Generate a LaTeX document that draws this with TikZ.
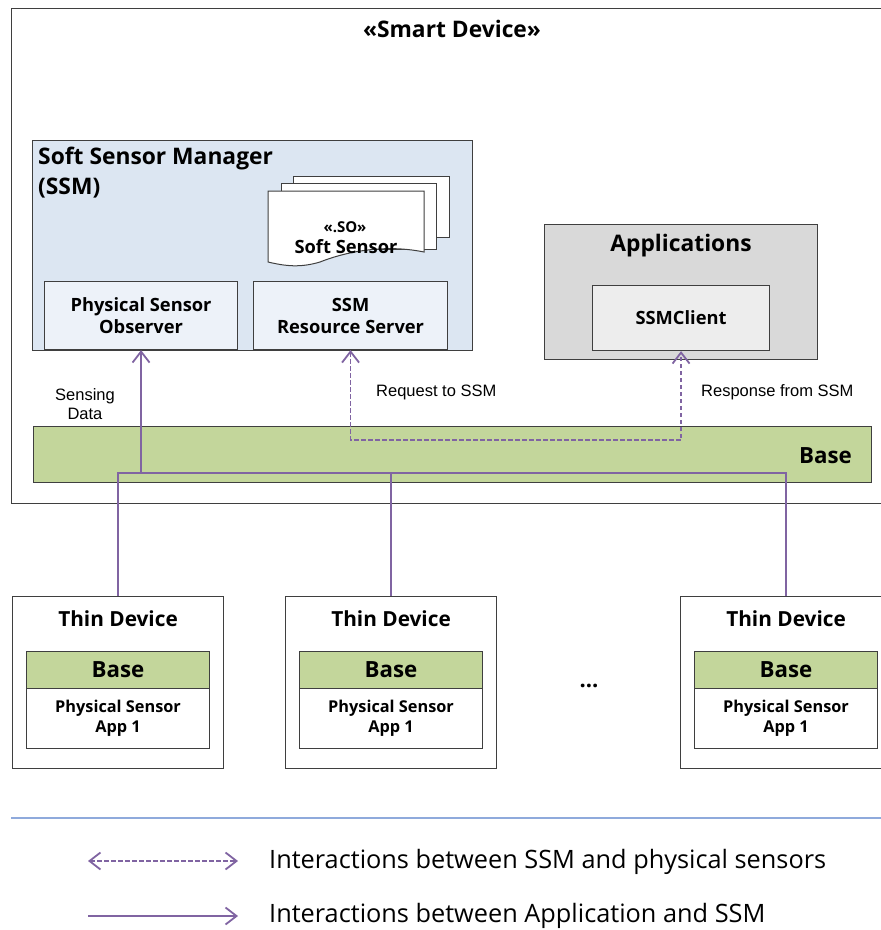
\documentclass[tikz,border=0pt]{standalone}
\usepackage{fontspec}
\setmainfont{Open Sans}
\newfontfamily\arialfont{Liberation Sans}
\usetikzlibrary{arrows.meta}
\definecolor{bordc}{HTML}{3F3F3F}
\definecolor{ssmblue}{HTML}{DCE6F2}
\definecolor{innerblue}{HTML}{EDF2F9}
\definecolor{appgray}{HTML}{D9D9D9}
\definecolor{clientgray}{HTML}{EDEDED}
\definecolor{basegreen}{HTML}{C3D69B}
\definecolor{purp}{HTML}{8064A2}
\definecolor{legline}{HTML}{8FAADC}
\tikzset{
  x=1pt, y=-1pt,
  box/.style={draw=bordc, line width=1.1pt, inner sep=0pt, anchor=north west},
  bigb/.style={font=\bfseries\fontsize{22.8}{30}\selectfont, inner sep=0pt},
  midb/.style={font=\bfseries\fontsize{18.3}{22}\selectfont, align=center, inner sep=0pt},
  smallb/.style={font=\bfseries\fontsize{16.3}{20}\selectfont, align=center, inner sep=0pt},
  basetxt/.style={font=\bfseries\fontsize{22.3}{25}\selectfont, inner sep=0pt},
  arlbl/.style={font=\arialfont\fontsize{16.5}{18.5}\selectfont, align=center, inner sep=0pt},
  legtxt/.style={font=\fontsize{25.3}{28}\selectfont, anchor=west, inner sep=0pt},
  solidarr/.style={draw=purp, line width=1.9pt},
  dasharr/.style={draw=purp, line width=1.6pt, dash pattern=on 4.5pt off 2.5pt},
  tipb/.tip={Straight Barb[length=11pt, width=17pt, line width=1.8pt]},
}
\begin{document}
\begin{tikzpicture}
\useasboundingbox (0,0) rectangle (881,930);
% smart device
\node[box, minimum width=880pt, minimum height=495pt] (smart) at (11,8) {};
\node[bigb] (smarttitle) at (452,29) {«Smart Device»};
% SSM
\node[box, fill=ssmblue, minimum width=440pt, minimum height=210pt] (ssm) at (32,140) {};
\node[bigb, anchor=north west, align=left] (ssmtitle) at (38,147) {Soft Sensor Manager\\(SSM)};
% soft sensor documents
\draw[draw=bordc, line width=1pt, fill=white] (293,176) rectangle (449,237);
\draw[draw=bordc, line width=1pt, fill=white] (281,183) rectangle (436,249);
\draw[draw=bordc, line width=1pt, fill=white] (268,191) -- (424,191) -- (424,252)
   .. controls (380,243) and (340,254) .. (320,262)
   .. controls (300,268) and (285,266) .. (268,262) -- cycle;
\node[font=\bfseries\fontsize{15}{18}\selectfont, inner sep=0pt] (so) at (345,227) {«.SO»};
\node[midb] (softsensor) at (346,247) {Soft Sensor};
\node[box, fill=innerblue, minimum width=193pt, minimum height=68pt] (psobs) at (44,281) {};
\node[midb] at (psobs.center) {Physical Sensor\\Observer};
\node[box, fill=innerblue, minimum width=194pt, minimum height=68pt] (ssmrs) at (253,281) {};
\node[midb] at (ssmrs.center) {SSM\\Resource Server};
% Applications
\node[box, fill=appgray, minimum width=273pt, minimum height=135pt] (apps) at (544,224) {};
\node[bigb] (appstitle) at (681,246) {Applications};
\node[box, fill=clientgray, minimum width=177pt, minimum height=65pt] (ssmclient) at (592,285) {};
\node[midb] at (ssmclient.center) {SSMClient};
% Base
\node[box, fill=basegreen, minimum width=838pt, minimum height=56pt] (base) at (33,426) {};
\node[basetxt, anchor=east] (basetitle) at (852,456) {Base};
% thin devices
\foreach \n/\x in {1/12, 2/285, 3/680} {
  \node[box, fill=white, minimum width=211pt, minimum height=172pt] (td\n) at (\x,596) {};
  \node[font=\bfseries\fontsize{20.8}{24}\selectfont, inner sep=0pt] (tdt\n) at ([yshift=-23pt]td\n.north) {Thin Device};
  \node[box, fill=basegreen, minimum width=183pt, minimum height=37pt] (tdb\n) at (\x+14,651) {};
  \node[basetxt] at (tdb\n.center) {Base};
  \node[box, fill=white, minimum width=183pt, minimum height=60pt] (tdp\n) at (\x+14,688) {};
  \node[smallb] at (tdp\n.center) {Physical Sensor\\App 1};
}
\node[font=\bfseries\fontsize{22}{24}\selectfont, inner sep=0pt] (dots) at (589,686) {...};
% connectors
\coordinate (hub) at (117.5,473);
\coordinate (dh) at (350,440);
\draw[solidarr] (td1.north) -- (td1.north |- hub) -| (td3.north);
\draw[solidarr] (td2.north) -- (td2.north |- hub);
\draw[solidarr, -{tipb}] (psobs.south |- hub) -- (psobs.south);
\draw[dasharr, {tipb}-{tipb}] (ssmrs.south) -- (ssmrs.south |- dh) -| (ssmclient.south);
\node[arlbl] (sensing) at (85,404) {Sensing\\Data};
\node[arlbl, anchor=west] (req) at (376,392) {Request to SSM};
\node[arlbl, anchor=west] (resp) at (701,392) {Response from SSM};
% legend
\coordinate (lgl) at (11,818);
\coordinate (lgr) at (881,818);
\draw[legline, line width=1.3pt] (lgl) -- (lgr);
\coordinate (l1a) at (88,861);
\coordinate (l1b) at (238,861);
\coordinate (l2a) at (88,916);
\coordinate (l2b) at (238,916);
\draw[dasharr, {tipb}-{tipb}] (l1a) -- (l1b);
\draw[solidarr, -{tipb}] (l2a) -- (l2b);
\node[legtxt] (leg1) at (269,862) {Interactions between SSM and physical sensors};
\node[legtxt] (leg2) at (269,916) {Interactions between Application and SSM};
\end{tikzpicture}
\end{document}
